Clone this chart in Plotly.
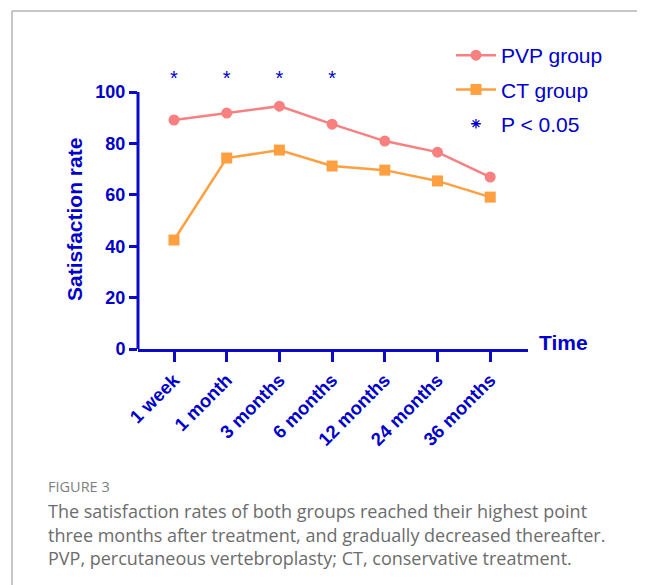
import plotly.graph_objects as go

OFF = 8  # page body margin
W, H = 645 - OFF, 585 - OFF
categories = ["1 week", "1 month", "3 months", "6 months", "12 months", "24 months", "36 months"]
pvp_values = [89.1, 91.8, 94.5, 87.5, 80.9, 76.6, 66.9]
ct_values = [42.4, 74.3, 77.4, 71.2, 69.6, 65.4, 59.1]
sig_categories = ["1 week", "1 month", "3 months", "6 months"]
sig_level = 104.5
y_ticks = [0, 20, 40, 60, 80, 100]

BLUE = "#0000CC"
AXBLUE = "#0A0AC8"
PINK = "#F88080"
ORANGE = "#FFA040"
GRAY = "#6C6C6C"
FONT = "Liberation Sans, Arial"

xi = list(range(len(categories)))
sig_x = [categories.index(c) for c in sig_categories]


def px(x):
    return (x - OFF) / W


def py(y):
    return 1 - (y - OFF) / H


# plot geometry (page pixels)
X_LEFT, X_RIGHT = 138, 528
Y_ZERO, Y_HUNDRED = 349, 92
Y_TOP = 55
unit = (Y_ZERO - Y_HUNDRED) / 100.0
ymax = (Y_ZERO - Y_TOP) / unit
step = 52.7
x0 = -(174 - X_LEFT) / step
x1 = (X_RIGHT - 174) / step

fig = go.Figure()
fig.add_trace(go.Scatter(
    x=xi, y=pvp_values, name="PVP group", mode="lines+markers",
    line=dict(color=PINK, width=2.5), marker=dict(symbol="circle", size=11, color=PINK),
    legendgroup="a", cliponaxis=False))
fig.add_trace(go.Scatter(
    x=xi, y=ct_values, name="CT group", mode="lines+markers",
    line=dict(color=ORANGE, width=2.5), marker=dict(symbol="square", size=11, color=ORANGE),
    legendgroup="b", cliponaxis=False))
fig.add_trace(go.Scatter(
    x=sig_x, y=[sig_level] * len(sig_x), mode="text", text=["*"] * len(sig_x),
    textposition="middle center",
    textfont=dict(family=FONT, size=20, color=BLUE),
    showlegend=False, cliponaxis=False, hoverinfo="skip"))
fig.add_trace(go.Scatter(
    x=[None], y=[None], name="P < 0.05", mode="markers",
    marker=dict(symbol="asterisk-open", size=8, line=dict(color=BLUE, width=1.3), color=BLUE),
    legendgroup="c"))

fig.update_layout(
    width=W, height=H,
    margin=dict(l=0, r=0, t=0, b=0, autoexpand=False),
    paper_bgcolor="white", plot_bgcolor="white",
    showlegend=True,
    legend=dict(x=px(451), y=py(35), xanchor="left", yanchor="top",
                font=dict(family=FONT, size=21, color=BLUE),
                tracegroupgap=4, itemwidth=40, bgcolor="rgba(0,0,0,0)"),
    xaxis=dict(domain=[px(X_LEFT), px(X_RIGHT)], range=[x0, x1], automargin=False,
               tickmode="array", tickvals=xi, ticktext=categories,
               showline=True, linecolor=AXBLUE, linewidth=3,
               ticks="outside", ticklen=10, tickwidth=3, tickcolor=AXBLUE,
               tickangle=-45, showgrid=False, zeroline=False,
               tickfont=dict(family=FONT, size=18.5, color=BLUE, weight="bold")),
    yaxis=dict(domain=[py(Y_ZERO), py(Y_TOP)], range=[0, ymax], automargin=False,
               tickmode="array", tickvals=y_ticks,
               showline=False,
               ticks="outside", ticklen=8, tickwidth=3, tickcolor=AXBLUE,
               showgrid=False, zeroline=False,
               tickfont=dict(family=FONT, size=18, color=BLUE, weight="bold")),
)

annotations = [
    dict(text="<b>Satisfaction rate</b>", x=px(74), y=py(220), textangle=-90, xanchor="center",
         font=dict(family=FONT, size=21, color=BLUE)),
    dict(text="<b>Time</b>", x=px(537), y=py(342), xanchor="left",
         font=dict(family=FONT, size=21, color=BLUE)),
    dict(text="FIGURE 3", x=px(46), y=py(486), xanchor="left",
         font=dict(family="Open Sans", size=14.5, color="#808080")),
    dict(text="The satisfaction rates of both groups reached their highest point",
         x=px(46), y=py(511), xanchor="left", font=dict(family="Open Sans", size=18, color=GRAY)),
    dict(text="three months after treatment, and gradually decreased thereafter.",
         x=px(46), y=py(535), xanchor="left", font=dict(family="Open Sans", size=18, color=GRAY)),
    dict(text="PVP, percutaneous vertebroplasty; CT, conservative treatment.",
         x=px(46), y=py(558), xanchor="left", font=dict(family="Open Sans", size=18, color=GRAY)),
]
for a in annotations:
    a.update(xref="paper", yref="paper", showarrow=False, yanchor="middle")
fig.update_layout(annotations=annotations)

# y axis line (0..100) and outer frame
fig.add_shape(type="line", xref="paper", yref="y", x0=px(X_LEFT), x1=px(X_LEFT), y0=0, y1=100,
              line=dict(color=AXBLUE, width=3))
fig.add_shape(type="line", xref="paper", yref="paper", x0=px(12), x1=1.05, y0=py(11), y1=py(11),
              line=dict(color="#B4B4B4", width=1.5))
fig.add_shape(type="line", xref="paper", yref="paper", x0=px(12), x1=px(12), y0=py(11), y1=-0.05,
              line=dict(color="#B4B4B4", width=1.5))

fig.write_html("out.html")
